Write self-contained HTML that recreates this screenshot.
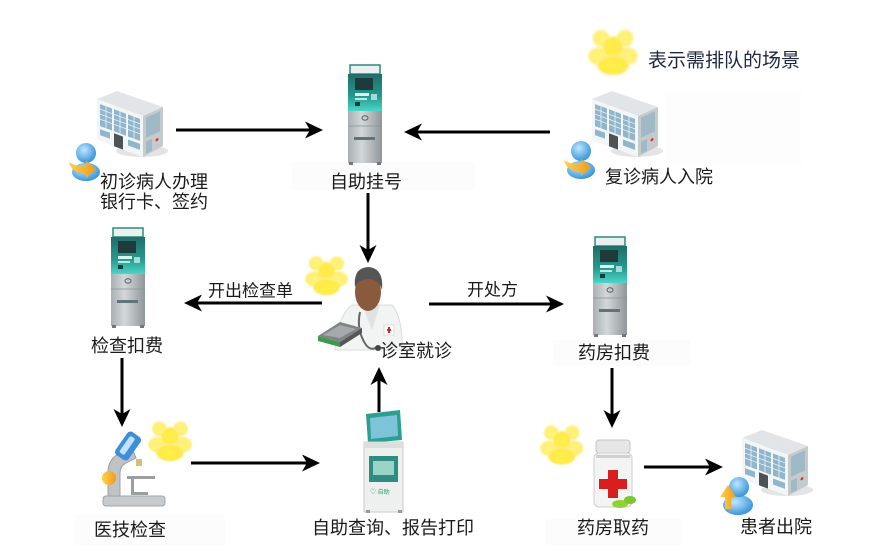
<!DOCTYPE html>
<html><head><meta charset="utf-8">
<style>
html,body{margin:0;padding:0;background:#fff;}
svg{display:block;}
text{font-family:"Liberation Sans","Noto Sans CJK SC",sans-serif;fill:#1a1a1a;}
</style></head>
<body>
<svg width="875" height="557" viewBox="0 0 875 557" xmlns="http://www.w3.org/2000/svg">
<defs>
  <linearGradient id="atmTeal" x1="0" y1="0" x2="0" y2="1">
    <stop offset="0" stop-color="#1f6e68"/><stop offset="0.6" stop-color="#27988e"/><stop offset="1" stop-color="#49d6c8"/>
  </linearGradient>
  <linearGradient id="atmGray" x1="0" y1="0" x2="1" y2="0">
    <stop offset="0" stop-color="#a9b0b3"/><stop offset="0.4" stop-color="#d3d7d9"/><stop offset="1" stop-color="#8f979a"/>
  </linearGradient>
  <radialGradient id="yel" cx="0.5" cy="0.55" r="0.6">
    <stop offset="0" stop-color="#fff04a"/><stop offset="0.7" stop-color="#ffe94a"/><stop offset="1" stop-color="#fff6b8"/>
  </radialGradient>
  <radialGradient id="blu" cx="0.4" cy="0.35" r="0.7">
    <stop offset="0" stop-color="#bfe6ff"/><stop offset="1" stop-color="#2f8fd6"/>
  </radialGradient>
  <linearGradient id="org" x1="0" y1="0" x2="1" y2="0">
    <stop offset="0" stop-color="#ffd24a"/><stop offset="1" stop-color="#f29a1a"/>
  </linearGradient>
  <filter id="soft" x="-20%" y="-20%" width="140%" height="140%"><feGaussianBlur stdDeviation="1"/></filter>

  <g id="atm">
    <rect x="3" y="0" width="30" height="9" fill="#e9f0ef" stroke="#2b8a80" stroke-width="1.5"/>
    <path d="M1 9 H35 V46 H1 Z" fill="url(#atmTeal)"/>
    <rect x="8" y="13" width="18" height="12" fill="#1e3a3a"/>
    <rect x="8" y="28" width="14" height="3" fill="#d8f2ef"/>
    <rect x="8" y="33" width="12" height="2" fill="#b7ebe5"/>
    <rect x="24" y="29" width="6" height="6" fill="#a2dcd6"/>
    <rect x="8" y="37" width="5" height="4" fill="#1e3a3a"/>
    <rect x="1" y="46" width="34" height="52" fill="url(#atmGray)"/>
    <line x1="1" y1="61" x2="35" y2="61" stroke="#8b9294" stroke-width="0.7"/>
    <ellipse cx="18" cy="53" rx="3" ry="2.2" fill="none" stroke="#5d6668"/>
    <rect x="7" y="72" width="21" height="3" fill="#62747a"/>
    <rect x="2" y="97" width="4" height="3" fill="#777"/>
    <rect x="30" y="97" width="4" height="3" fill="#777"/>
  </g>

  <g id="bld">
    <ellipse cx="45" cy="62" rx="26" ry="6" fill="#e4e4e4"/>
    <polygon points="0,10 20,2 66,18 46,27" fill="#e2e5e7"/>
    <polygon points="0,10 46,27 46,68 0,51" fill="#f3f5f6"/>
    <polygon points="46,27 66,18 66,57 46,68" fill="#c5cacd"/>
    <g transform="matrix(1,0.37,0,1,0,10)">
      <g fill="#8fb6cc">
        <rect x="3" y="4" width="12" height="22"/>
        <rect x="17" y="4" width="12" height="22"/>
        <rect x="31" y="4" width="12" height="22"/>
        <rect x="3" y="29" width="10" height="6"/>
        <rect x="31" y="29" width="12" height="6"/>
      </g>
      <rect x="17" y="28" width="9" height="13" fill="#4d5255"/>
      <g stroke="#f3f5f6" stroke-width="0.8">
        <line x1="3" y1="9" x2="43" y2="9"/><line x1="3" y1="14" x2="43" y2="14"/><line x1="3" y1="19" x2="43" y2="19"/>
        <line x1="9" y1="4" x2="9" y2="26"/><line x1="23" y1="4" x2="23" y2="26"/><line x1="37" y1="4" x2="37" y2="26"/>
      </g>
    </g>
    <g transform="matrix(1,-0.45,0,1,46,27)">
      <g fill="#9fb9c6">
        <rect x="3" y="3" width="14" height="20"/>
        <rect x="3" y="27" width="6" height="12"/>
      </g>
      <circle cx="14" cy="30" r="1.5" fill="#d33"/>
    </g>
  </g>

  <g id="yp" filter="url(#soft)">
    <circle cx="13" cy="12" r="8.5" fill="url(#yel)" opacity="0.75"/>
    <circle cx="37" cy="12" r="8.5" fill="url(#yel)" opacity="0.75"/>
    <ellipse cx="11" cy="30" rx="11" ry="9" fill="url(#yel)" opacity="0.75"/>
    <ellipse cx="39" cy="30" rx="11" ry="9" fill="url(#yel)" opacity="0.75"/>
    <circle cx="25" cy="20" r="10" fill="url(#yel)"/>
    <ellipse cx="25" cy="39" rx="16" ry="10" fill="url(#yel)"/>
  </g>

  <g id="prs">
    <ellipse cx="20" cy="32" rx="14" ry="9" fill="url(#blu)"/>
    <circle cx="20" cy="13" r="10" fill="url(#blu)"/>
    <path d="M3 22 Q6 34 20 33 L20 38 L30 29 L20 21 L20 26 Q10 27 3 22 Z" fill="url(#org)"/>
  </g>
</defs>

<!-- faint backgrounds -->
<rect x="292" y="162" width="183" height="28" fill="#fcfcfc"/>
<rect x="665" y="92" width="137" height="72" fill="#fdfdfd"/>
<rect x="553" y="340" width="137" height="25" fill="#fcfcfc"/>
<rect x="75" y="515" width="150" height="30" fill="#fcfcfc"/>
<rect x="545" y="518" width="137" height="28" fill="#fcfcfc"/>

<!-- arrows -->
<g stroke="#000" stroke-width="3" fill="none">
  <line x1="176" y1="130" x2="312" y2="130"/>
  <line x1="550" y1="132" x2="414" y2="132"/>
  <line x1="368" y1="193" x2="368" y2="252"/>
  <line x1="322" y1="303" x2="194" y2="303"/>
  <line x1="429" y1="304" x2="554" y2="304"/>
  <line x1="122" y1="358" x2="122" y2="416"/>
  <line x1="379" y1="412" x2="379" y2="378"/>
  <line x1="191" y1="463" x2="310" y2="463"/>
  <line x1="612" y1="368" x2="612" y2="417"/>
  <line x1="644" y1="467" x2="712" y2="467"/>
</g>
<g fill="#000">
  <polygon points="323,130 305,121.5 310,130 305,138.5"/>
  <polygon points="404,132 422,123.5 417,132 422,140.5"/>
  <polygon points="368,263 359.5,245 368,250 376.5,245"/>
  <polygon points="184,303 202,294.5 197,303 202,311.5"/>
  <polygon points="564,304 546,295.5 551,304 546,312.5"/>
  <polygon points="122,427 113.5,409 122,414 130.5,409"/>
  <polygon points="379,367 370.5,385 379,380 387.5,385"/>
  <polygon points="320,463 302,454.5 307,463 302,471.5"/>
  <polygon points="612,428 603.5,410 612,415 620.5,410"/>
  <polygon points="723,467 705,458.5 710,467 705,475.5"/>
</g>

<!-- icons -->
<use href="#bld" x="97" y="89"/>
<use href="#prs" x="66" y="140"/>
<use href="#atm" x="347" y="65"/>
<use href="#yp" x="588" y="26"/>
<use href="#bld" x="592" y="89"/>
<use href="#prs" x="561" y="138"/>
<use href="#atm" x="110" y="228"/>
<use href="#atm" x="592" y="237"/>
<g transform="translate(305,253) scale(0.86)"><use href="#yp"/></g>
<g transform="translate(148,418) scale(0.88)"><use href="#yp"/></g>
<g transform="translate(540,422) scale(0.87)"><use href="#yp"/></g>
<use href="#bld" x="742" y="428"/>
<g transform="translate(718,475)">
  <ellipse cx="20" cy="30" rx="15" ry="10" fill="url(#blu)"/>
  <circle cx="21" cy="12" r="10" fill="url(#blu)"/>
  <path d="M2 22 L10 10 L18 22 L13 22 L13 34 L7 34 L7 22 Z" fill="url(#org)"/>
</g>

<!-- doctor -->
<g>
  <path d="M335 350 Q338 315 352 305 L392 305 Q403 318 402 350 Z" fill="#f2f3f3" stroke="#d8dcdc" stroke-width="1"/>
  <path d="M362 305 L372 330 L380 305 Z" fill="#dfe3e3"/>
  <ellipse cx="368" cy="292" rx="13" ry="19" fill="#8a5a3c"/>
  <path d="M355 287 Q353 268 368 267 Q384 268 382 290 Q379 279 368 279 Q358 280 355 287 Z" fill="#555"/>
  <path d="M360 312 Q356 330 366 345 Q372 352 378 346" fill="none" stroke="#666" stroke-width="2"/>
  <circle cx="378" cy="348" r="3" fill="#444"/>
  <rect x="384" y="325" width="10" height="10" fill="#fff" stroke="#ccc" stroke-width="0.6"/>
  <path d="M387 330 h4 M389 327 v6" stroke="#d22" stroke-width="2"/>
  <polygon points="318,336 340,322 362,328 340,342" fill="#7f8587"/>
  <polygon points="318,336 340,342 340,347 318,341" fill="#3d9a4a"/>
  <polygon points="340,342 362,328 362,333 340,347" fill="#555"/>
  <polygon points="323,335 340,325 356,329 340,338" fill="#a4aaac"/>
</g>

<!-- microscope -->
<g>
  <rect x="103" y="496" width="62" height="10" rx="3" fill="#c8cbcd" stroke="#9fa4a6" stroke-width="1"/>
  <path d="M108 496 L108 472 Q108 458 122 452 L132 448 L136 458 L126 463 Q120 466 120 474 L120 496 Z" fill="#bfc3c5" stroke="#9da2a4" stroke-width="1"/>
  <rect x="127" y="476" width="28" height="3" fill="#9aa0a2"/>
  <rect x="131" y="479" width="3" height="16" fill="#9aa0a2"/>
  <rect x="134" y="492" width="14" height="3" fill="#9aa0a2"/>
  <g transform="rotate(35 128 446)">
    <rect x="120" y="432" width="16" height="28" rx="4" fill="#3f8fd8"/>
    <rect x="124" y="436" width="6" height="20" rx="2" fill="#bfe2ff"/>
  </g>
  <rect x="136" y="459" width="6" height="7" fill="#d6c07a"/>
  <circle cx="109" cy="478" r="7" fill="url(#org)"/>
</g>

<!-- kiosk -->
<g>
  <path d="M366 414 L400 410 L402 440 L368 443 Z" fill="#2a9f92"/>
  <path d="M370 418 L397 415 L398 436 L371 439 Z" fill="#7fc3d8"/>
  <rect x="364" y="442" width="39" height="70" fill="#eef0ef" stroke="#c8cccb" stroke-width="1"/>
  <rect x="364" y="442" width="39" height="6" fill="#dcdfde"/>
  <rect x="369" y="456" width="29" height="26" fill="#2e8c80"/>
  <rect x="373" y="461" width="21" height="14" fill="#9ad3c8"/>
  <text x="370" y="494" font-size="6" style="fill:#3a9a6a">♡ 自助</text>
  <rect x="366" y="510" width="4" height="3" fill="#999"/>
  <rect x="398" y="510" width="4" height="3" fill="#999"/>
</g>

<!-- pill bottle -->
<g>
  <rect x="596" y="440" width="34" height="13" rx="3" fill="#e6e6e6" stroke="#c4c4c4" stroke-width="1"/>
  <rect x="594" y="453" width="38" height="54" rx="5" fill="#f4f4f4" stroke="#cfcfcf" stroke-width="1"/>
  <rect x="596" y="455" width="34" height="3" fill="#d0d0d0"/>
  <path d="M608 470 h10 v9 h9 v10 h-9 v9 h-10 v-9 h-9 v-10 h9 Z" fill="#d81e1e"/>
  <ellipse cx="620" cy="504" rx="8" ry="4" fill="#8fd23a"/>
  <ellipse cx="630" cy="500" rx="6" ry="4" fill="#7bc62e"/>
</g>

<!-- labels -->
<g font-size="18" dominant-baseline="central">
  <text x="100" y="182">初诊病人办理</text>
  <text x="100" y="202">银行卡、签约</text>
  <text x="330" y="182">自助挂号</text>
  <text x="648" y="61" style="fill:#1e2640" font-size="19">表示需排队的场景</text>
  <text x="605" y="177">复诊病人入院</text>
  <text x="91" y="346">检查扣费</text>
  <text x="380" y="351">诊室就诊</text>
  <text x="578" y="353">药房扣费</text>
  <text x="94" y="530">医技检查</text>
  <text x="312" y="528">自助查询、报告打印</text>
  <text x="577" y="528">药房取药</text>
  <text x="740" y="527">患者出院</text>
</g>
<g font-size="17" dominant-baseline="central">
  <text x="208" y="291">开出检查单</text>
  <text x="467" y="290">开处方</text>
</g>
</svg>
</body></html>
